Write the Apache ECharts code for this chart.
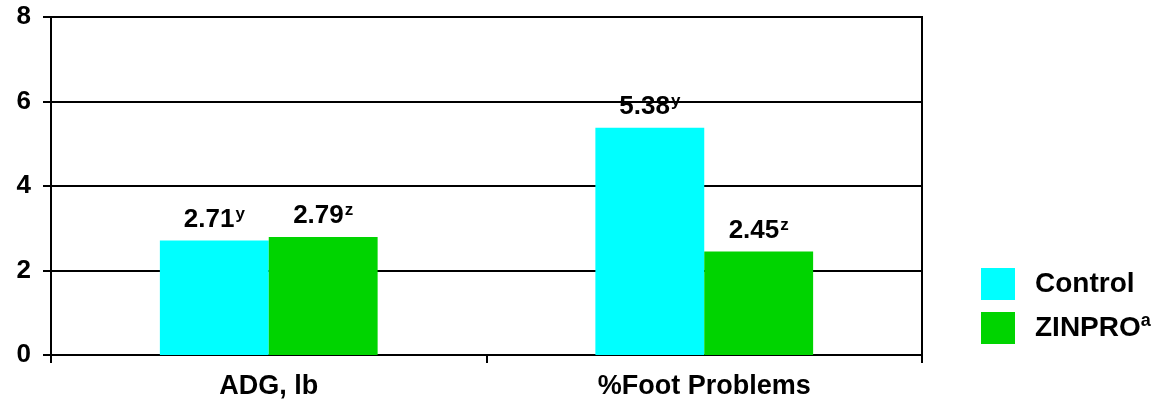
<!DOCTYPE html>
<html><head><meta charset="utf-8">
<script src="https://cdn.jsdelivr.net/npm/echarts@6/dist/echarts.min.js"></script>
<style>html,body{margin:0;padding:0;background:#fff}#c{width:1175px;height:408px}</style>
</head><body><div id="c"></div>
<script>
const categories = ['ADG, lb', '%Foot Problems'];
const controlValues = [2.71, 5.38];
const zinproValues = [2.79, 2.45];
const controlSup = ['y', 'y'];
const zinproSup = ['z', 'z'];
const seriesNames = ['Control', 'ZINPRO'];
const legendSup = ['', 'a'];
const yTicks = [0, 2, 4, 6, 8];

const FONT = 'Liberation Sans, Arial, sans-serif';
const rich = {
  v: {fontFamily: FONT, fontWeight: 'bold', fontSize: 26, color: '#000', lineHeight: 28},
  s: {fontFamily: FONT, fontWeight: 'bold', fontSize: 17, color: '#000', lineHeight: 28, verticalAlign: 'top', padding: [0, 0, 14, 1]}
};
function mkLabel(sups) {
  return {
    show: true, position: 'top', distance: 7,
    formatter: p => '{v|' + p.value.toFixed(2) + '}{s|' + sups[p.dataIndex] + '}',
    rich: rich
  };
}
const chart = echarts.init(document.getElementById('c'), null, {renderer: 'canvas'});
chart.setOption({
  animation: false,
  backgroundColor: '#fff',
  grid: {left: 51, right: 253, top: 17, bottom: 53, show: true, borderColor: '#000', borderWidth: 2},
  legend: {
    orient: 'vertical', left: 981, top: 268, padding: 0, itemWidth: 34, itemHeight: 32, itemGap: 12,
    icon: 'rect',
    data: seriesNames,
    formatter: n => '{t|' + n + '}' + (legendSup[seriesNames.indexOf(n)] ? '{s|' + legendSup[seriesNames.indexOf(n)] + '}' : ''),
    textStyle: {
      padding: [0, 0, 0, 15],
      rich: {
        t: {fontFamily: FONT, fontWeight: 'bold', fontSize: 28, color: '#000', lineHeight: 32},
        s: {fontFamily: FONT, fontWeight: 'bold', fontSize: 18, color: '#000', lineHeight: 32, verticalAlign: 'top', padding: [0, 0, 14, 0]}
      }
    }
  },
  xAxis: {
    type: 'category', data: categories, boundaryGap: true,
    axisLine: {lineStyle: {color: '#000', width: 2}},
    axisTick: {show: true, alignWithLabel: false, length: 8, lineStyle: {color: '#000', width: 2}},
    axisLabel: {fontFamily: FONT, fontWeight: 'bold', fontSize: 27, color: '#000', margin: 18}
  },
  yAxis: {
    type: 'value', min: yTicks[0], max: yTicks[yTicks.length - 1], interval: 2,
    axisLine: {show: true, lineStyle: {color: '#000', width: 2}},
    axisTick: {show: true, length: 8, lineStyle: {color: '#000', width: 2}},
    splitLine: {lineStyle: {color: '#000', width: 2}},
    axisLabel: {fontFamily: FONT, fontWeight: 'bold', fontSize: 26, color: '#000', margin: 20}
  },
  series: [
    {name: seriesNames[0], type: 'bar', data: controlValues, barWidth: '25%', barGap: '0%',
     itemStyle: {color: '#00FFFF'}, label: mkLabel(controlSup)},
    {name: seriesNames[1], type: 'bar', data: zinproValues, barWidth: '25%', barGap: '0%',
     itemStyle: {color: '#00D400'}, label: mkLabel(zinproSup)}
  ]
});
</script></body></html>
